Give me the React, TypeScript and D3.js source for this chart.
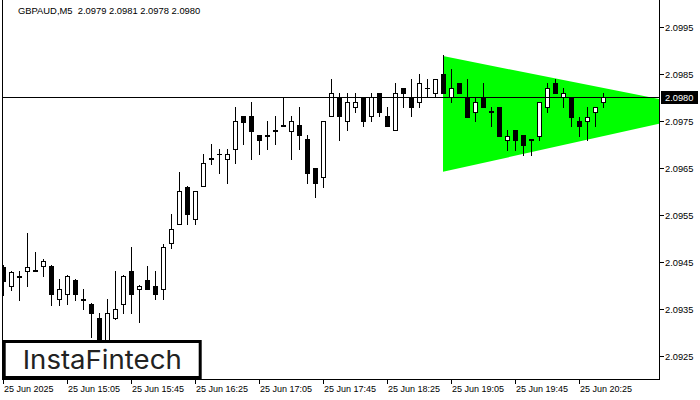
import React from "react";
import * as d3 from "d3";

// ---- data (GBPAUD M5) ----
const opens = [2.09439,2.09399,2.0942,2.09431,2.09431,2.09441,2.09441,2.09371,2.09381,2.09412,2.09371,2.09361,2.09331,2.0928,2.0933,2.09361,2.09431,2.09393,2.09411,2.094,2.09393,2.0949,2.09531,2.0961,2.09541,2.09612,2.09671,2.09679,2.0967,2.0969,2.0976,2.0976,2.0972,2.0972,2.09729,2.09741,2.09729,2.09741,2.09711,2.0965,2.0963,2.0976,2.098,2.09749,2.09779,2.098,2.0976,2.09809,2.0976,2.0973,2.0982,2.098,2.0979,2.0982,2.09809,2.0985,2.098,2.0983,2.098,2.0977,2.098,2.0977,2.09779,2.0971,2.09731,2.0972,2.09711,2.09719,2.09779,2.0983,2.098,2.098,2.09749,2.09749,2.0977,2.0979];
const highs = [2.09444,2.09431,2.09431,2.09512,2.09471,2.09456,2.09444,2.09414,2.09422,2.09413,2.09393,2.09362,2.09341,2.09371,2.09431,2.09422,2.09482,2.09401,2.09441,2.09431,2.09489,2.09552,2.09642,2.09611,2.09601,2.0968,2.09701,2.0969,2.0969,2.09779,2.09761,2.0979,2.0972,2.09749,2.0976,2.098,2.0976,2.09779,2.0972,2.0965,2.0975,2.09839,2.09809,2.09809,2.09809,2.09801,2.09809,2.0981,2.0978,2.0983,2.0982,2.09839,2.0985,2.09839,2.0984,2.0989,2.09861,2.09831,2.09839,2.098,2.0983,2.09779,2.0978,2.09731,2.09731,2.0972,2.09712,2.0979,2.0983,2.09839,2.0982,2.09801,2.09759,2.09779,2.0978,2.0981];
const lows = [2.0938,2.0939,2.09369,2.09399,2.0943,2.0942,2.09359,2.09359,2.09361,2.09369,2.09351,2.0929,2.09258,2.09267,2.09329,2.09341,2.09341,2.09322,2.09392,2.09371,2.09371,2.0948,2.0953,2.09531,2.09531,2.09611,2.09659,2.0964,2.09619,2.0966,2.097,2.0967,2.09679,2.0969,2.097,2.0974,2.0967,2.0969,2.09619,2.09589,2.0961,2.0976,2.0971,2.0973,2.0977,2.0974,2.09749,2.0976,2.0974,2.0973,2.09779,2.0976,2.09779,2.098,2.098,2.09809,2.0979,2.09809,2.09759,2.09749,2.09779,2.09739,2.09718,2.09688,2.09688,2.09678,2.09678,2.0971,2.0977,2.09809,2.09779,2.0974,2.09719,2.0971,2.0974,2.0978];
const closes = [2.0941,2.09429,2.09419,2.0944,2.09432,2.09452,2.09382,2.09393,2.09421,2.09381,2.0937,2.09341,2.09273,2.09341,2.09351,2.09421,2.09381,2.094,2.09393,2.09382,2.09482,2.09521,2.096,2.09552,2.096,2.0966,2.0967,2.0968,2.09679,2.09749,2.09748,2.09729,2.0971,2.09719,2.0973,2.0974,2.09749,2.0972,2.0964,2.09619,2.09749,2.09809,2.0976,2.0979,2.0979,2.09749,2.098,2.0977,2.0974,2.09809,2.09809,2.09779,2.0983,2.09821,2.09839,2.09809,2.0982,2.09809,2.09759,2.0979,2.09779,2.09771,2.09719,2.09719,2.0971,2.09699,2.0971,2.0979,2.0982,2.09809,2.09809,2.09759,2.0974,2.09759,2.09779,2.098];

const xTickIndex = [0, 8, 16, 24, 32, 40, 48, 56, 64, 72];
const xTickLabels = ["25 Jun 2025","25 Jun 15:05","25 Jun 15:45","25 Jun 16:25","25 Jun 17:05","25 Jun 17:45","25 Jun 18:25","25 Jun 19:05","25 Jun 19:45","25 Jun 20:25"];
const yTicks = [2.0925, 2.0935, 2.0945, 2.0955, 2.0965, 2.0975, 2.0985, 2.0995];

const triangleIndex = [55, 89.4, 55];
const trianglePrice = [2.09888, 2.09772, 2.09642];

const currentPrice = 2.098;
const title = "GBPAUD,M5  2.0979 2.0981 2.0978 2.0980";
const priceDomain = [2.092011, 2.100074];
const indexDomain = [0, 82];

export default function App() {
  const W = 700, H = 400;
  const left = 3, right = 659, top = 0, bottom = 379;
  const x = d3.scaleLinear().domain(indexDomain).range([left, right]);
  const y = d3.scaleLinear().domain(priceDomain).range([bottom, top]);
  const font = "'Liberation Sans', Arial, sans-serif";

  const triPts = triangleIndex.map((t, i) => [x(t), y(trianglePrice[i])] as [number, number]);
  const triPath = d3.line()(triPts) + "Z";

  const candles = opens.map((o, i) => {
    const c = closes[i], h = highs[i], l = lows[i];
    const cx = Math.round(x(i));
    const yh = Math.round(y(h)), yl = Math.round(y(l));
    const yt = Math.round(y(Math.max(o, c))), yb = Math.round(y(Math.min(o, c)));
    const bull = c >= o;
    return (
      <g key={i}>
        <line x1={cx + 0.5} x2={cx + 0.5} y1={yh} y2={yl + 1} stroke="#000" strokeWidth={1} />
        {yb - yt < 1 ? (
          <line x1={cx - 2} x2={cx + 3} y1={yt + 0.5} y2={yt + 0.5} stroke="#000" strokeWidth={1} />
        ) : (
          <rect x={cx - 2 + 0.5} y={yt + 0.5} width={4} height={yb - yt} fill={bull ? "#fff" : "#000"} stroke="#000" strokeWidth={1} />
        )}
      </g>
    );
  });

  const py = Math.round(y(currentPrice)) + 0.5;

  return (
    <svg width={W} height={H} style={{ position: "absolute", left: 0, top: 0, background: "#fff" }}>
      <rect x={0} y={0} width={W} height={H} fill="#fff" />
      <defs>
        <clipPath id="plot">
          <rect x={2} y={0} width={right - 2} height={bottom} />
        </clipPath>
      </defs>
      <g clipPath="url(#plot)">
        <path d={triPath} fill="#00ff00" />
        {candles}
        <line x1={2} x2={right} y1={py} y2={py} stroke="#000" strokeWidth={1} />
      </g>
      {/* frame */}
      <line x1={2.5} x2={2.5} y1={0} y2={bottom + 0.5} stroke="#000" />
      <line x1={right + 0.5} x2={right + 0.5} y1={0} y2={bottom + 0.5} stroke="#000" />
      <line x1={2} x2={right + 1} y1={bottom + 0.5} y2={bottom + 0.5} stroke="#000" />
      {/* y axis */}
      {yTicks.map((t) => {
        const ty = Math.round(y(t)) + 0.5;
        return (
          <g key={t}>
            <line x1={right + 1} x2={right + 5} y1={ty} y2={ty} stroke="#000" />
            <text x={665} y={ty + 3.5} fontFamily={font} fontSize={9.3} fill="#000">{t.toFixed(4)}</text>
          </g>
        );
      })}
      <rect x={661} y={py - 6.5} width={37} height={13} fill="#000" />
      <text x={665} y={py + 3.5} fontFamily={font} fontSize={9.3} fill="#fff">{currentPrice.toFixed(4)}</text>
      {/* x axis */}
      {xTickIndex.map((t, i) => {
        const tx = Math.round(x(t)) + 0.5;
        return (
          <g key={t}>
            <line x1={tx} x2={tx} y1={bottom + 1} y2={bottom + 5} stroke="#000" />
            <text x={tx + 0.5} y={392} fontFamily={font} fontSize={9} fill="#000">{xTickLabels[i]}</text>
          </g>
        );
      })}
      {/* title */}
      <text x={18} y={13.5} fontFamily={font} fontSize={9.4} fill="#000" style={{ whiteSpace: "pre" }}>{title}</text>
      {/* logo */}
      <rect x={4.2} y={341.5} width={196} height={36} fill="#fff" stroke="#000" strokeWidth={3} />
      <text x={22.7} y={368.5} fontFamily="Inter, 'Open Sans', sans-serif" fontWeight={400} fontSize={26} fill="#222" textLength={159} lengthAdjust="spacingAndGlyphs">InstaFintech</text>
    </svg>
  );
}
